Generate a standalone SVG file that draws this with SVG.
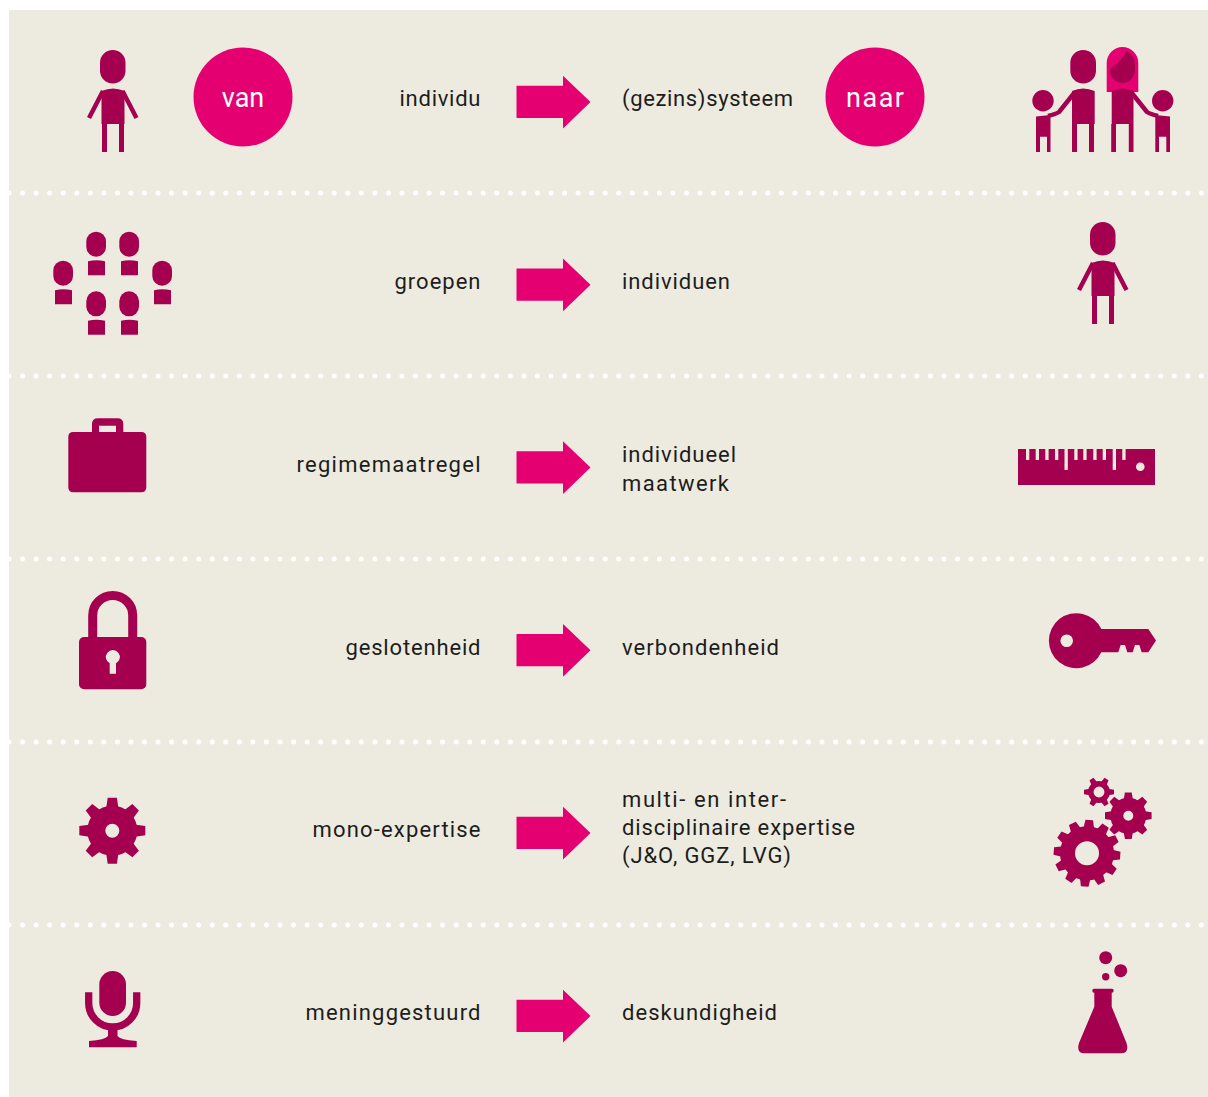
<svg xmlns="http://www.w3.org/2000/svg" xmlns:xlink="http://www.w3.org/1999/xlink" width="1208" height="1097" viewBox="0 0 1208 1097">
<style>
.i{fill:#a50050}
.p{fill:#e50071}
.h{fill:#edebe0}
.t{font-family:"Roboto","Liberation Sans",sans-serif;font-size:22px;fill:#1d1d1b}
.e{text-anchor:end}
.c{font-family:"Roboto","Liberation Sans",sans-serif;font-size:27px;fill:#fff;text-anchor:middle}
.d{stroke:#fff;stroke-width:5;stroke-linecap:round;stroke-dasharray:0 13.55;fill:none}
.l{stroke:#a50050;fill:none}
</style>
<defs>
<path id="arrow" class="p" d="M516.500 85.700H563V75.700L590.500 102L563 128.500V118H516.500Z"/>
<g id="person" class="i">
<rect x="100" y="50" width="25.500" height="33.500" rx="12.700"/>
<path d="M101.500 91Q113 86 124.500 91V124H124V152H119V124H107V152H102V124H101.500Z"/>
<path d="M103 91L89 118M122.500 91L136.500 118" class="l" stroke-width="4.500"/>
</g>
<g id="m" class="i">
<rect width="19.700" height="25" rx="9.800"/>
<path d="M1.700 29.500Q10 27.500 18.700 29.500V43.500H1.700Z"/>
</g>
<polygon id="tL" points="-6.500,-20 -4.600,-33 4.600,-33 6.500,-20"/>
<polygon id="tB" points="-5.500,-24 -3.800,-33.300 3.800,-33.300 5.500,-24"/>
<polygon id="tM" points="-4.800,-15 -3.400,-23.300 3.400,-23.300 4.800,-15"/>
<polygon id="tS" points="-3.200,-9 -2.300,-15 2.300,-15 3.200,-9"/>
</defs>
<rect id="background" x="9" y="10" width="1199" height="1087" class="h"/>
<g id="dividers">
<path class="d" d="M9 193H1208"/><path class="d" d="M9 376H1208"/><path class="d" d="M9 559H1208"/><path class="d" d="M9 742H1208"/><path class="d" d="M9 925H1208"/>
</g>
<g id="connectors">
<use href="#arrow"/>
<use href="#arrow" y="182.700"/>
<use href="#arrow" y="365.500"/>
<use href="#arrow" y="548.300"/>
<use href="#arrow" y="731"/>
<use href="#arrow" y="914"/>
</g>
<g id="badge-van"><circle class="p" cx="243" cy="97" r="49.500"/><text class="c" x="243" y="107">van</text></g>
<g id="badge-naar"><circle class="p" cx="875" cy="97" r="49.500"/><text class="c" x="875" y="107" textLength="58">naar</text></g>
<g id="row1-from"><use href="#person"/><text class="t e" x="480.500" y="106" textLength="81">individu</text></g>
<g id="row1-to"><text class="t" x="622" y="106" textLength="171">(gezins)systeem</text>
<g class="i">
<circle cx="1043" cy="100.700" r="10.700"/>
<rect x="1070.300" y="50" width="25.700" height="33.500" rx="12.800"/>
<path d="M1072 91Q1083 86 1094.700 91V124H1094V152H1089V124H1077V152H1072V124Z"/>
<path d="M1075 92L1059 112Q1056 114 1048 116" class="l" stroke-width="4.500"/>
<path d="M1036 116.500L1050.500 115V136.700H1050.500V152H1047V136.700H1040V152H1036Z"/>
<path class="p" d="M1106.700 63A15.800 16 0 0 1 1138.300 63V92H1106.700Z"/>
<path d="M1110 69C1118 64 1123 58 1126.500 51Q1135 55 1135 65V70A12.500 13 0 0 1 1110 70Z"/>
<path d="M1111.700 91Q1122.500 86 1133.500 91V124H1133.500V152H1128.800V124H1116V152H1111.200V124H1111.700Z"/>
<path d="M1131 92L1147 112Q1150 114 1158 116" class="l" stroke-width="4.500"/>
<circle cx="1162.700" cy="100.700" r="10.700"/>
<path d="M1170 116.500L1155.300 115V152H1159V136.700H1166.300V152H1170Z"/>
</g></g>
<g id="row2-from">
<use href="#m" x="86.300" y="231.700"/><use href="#m" x="119.300" y="231.700"/><use href="#m" x="53.300" y="260.700"/><use href="#m" x="152.300" y="260.700"/><use href="#m" x="86.300" y="291.300"/><use href="#m" x="119.300" y="291.300"/>
<text class="t e" x="480.500" y="289" textLength="86">groepen</text></g>
<g id="row2-to"><use href="#person" x="990" y="172"/><text class="t" x="622" y="289" textLength="108">individuen</text></g>
<g id="row3-from"><path class="i" fill-rule="evenodd" d="M92 432V424Q92 418.300 98 418.300H117.300Q123.300 418.300 123.300 424V432H141.300Q146.300 432 146.300 437V487.300Q146.300 492.300 141.300 492.300H73.300Q68.300 492.300 68.300 487.300V437Q68.300 432 73.300 432ZM99 432H116V425.700H99Z"/><text class="t e" x="480.500" y="472" textLength="184">regimemaatregel</text></g>
<g id="row3-to"><text class="t" x="622" y="462" textLength="114">individueel</text><text class="t" x="622" y="491" textLength="107">maatwerk</text>
<rect class="i" x="1018" y="449" width="137" height="36"/>
<path class="h" d="M1026 449h3.300v11h-3.300zM1035.700 449h3.300v11h-3.300zM1045.300 449h3.300v11h-3.300zM1055 449h3.300v11h-3.300zM1064.500 449h3.300v21h-3.300zM1074.300 449h3.300v11h-3.300zM1083.300 449h3.300v11h-3.300zM1093.300 449h3.300v11h-3.300zM1102.700 449h3.300v11h-3.300zM1112.700 449h3.300v21h-3.300zM1122.300 449h3.300v11h-3.300z"/>
<circle class="h" cx="1140.300" cy="466.700" r="4.300"/></g>
<g id="row4-from"><path class="l" stroke-width="9" d="M92.700 638V615.400A20 20 0 0 1 132.700 615.400V638"/>
<rect class="i" x="79" y="637" width="67.300" height="52.300" rx="5"/>
<path class="h" d="M109.700 663.300A7 7 0 1 1 116 663.300V673.700H109.700Z"/>
<text class="t e" x="480.500" y="655" textLength="135">geslotenheid</text></g>
<g id="row4-to"><text class="t" x="622" y="655" textLength="157">verbondenheid</text>
<path class="i" fill-rule="evenodd" d="M1101.300 629H1148.300L1156 640.500L1148.300 652.300H1141.700L1139.300 645H1135L1132.700 652.300H1127.300L1125 645H1120.700L1118.300 652.300H1101.300A27.500 27.500 0 1 1 1101.300 629ZM1073 640.700A6.300 6.300 0 1 0 1060.400 640.700A6.300 6.300 0 1 0 1073 640.700Z"/></g>
<g id="row5-from"><g class="i" transform="translate(112.300 830.700)">
<use href="#tL"/><use href="#tL" transform="rotate(45)"/><use href="#tL" transform="rotate(90)"/><use href="#tL" transform="rotate(135)"/><use href="#tL" transform="rotate(180)"/><use href="#tL" transform="rotate(225)"/><use href="#tL" transform="rotate(270)"/><use href="#tL" transform="rotate(315)"/>
<circle r="16" fill="none" stroke="#a50050" stroke-width="18"/></g>
<text class="t e" x="480.500" y="837" textLength="168">mono-expertise</text></g>
<g id="row5-to"><text class="t" x="622" y="807" textLength="164">multi- en inter-</text><text class="t" x="622" y="835" textLength="233">disciplinaire expertise</text><text class="t" x="622" y="863" textLength="169">(J&amp;O, GGZ, LVG)</text>
<g class="i" transform="translate(1087 853.300)">
<use href="#tB" transform="rotate(4)"/><use href="#tB" transform="rotate(34)"/><use href="#tB" transform="rotate(64)"/><use href="#tB" transform="rotate(94)"/><use href="#tB" transform="rotate(124)"/><use href="#tB" transform="rotate(154)"/><use href="#tB" transform="rotate(184)"/><use href="#tB" transform="rotate(214)"/><use href="#tB" transform="rotate(244)"/><use href="#tB" transform="rotate(274)"/><use href="#tB" transform="rotate(304)"/><use href="#tB" transform="rotate(334)"/>
<circle r="19.500" fill="none" stroke="#a50050" stroke-width="15"/></g>
<g class="i" transform="translate(1128.300 815.700)">
<use href="#tM"/><use href="#tM" transform="rotate(45)"/><use href="#tM" transform="rotate(90)"/><use href="#tM" transform="rotate(135)"/><use href="#tM" transform="rotate(180)"/><use href="#tM" transform="rotate(225)"/><use href="#tM" transform="rotate(270)"/><use href="#tM" transform="rotate(315)"/>
<circle r="11.500" fill="none" stroke="#a50050" stroke-width="13"/></g>
<g class="i" transform="translate(1099 792)">
<use href="#tS" transform="rotate(30)"/><use href="#tS" transform="rotate(90)"/><use href="#tS" transform="rotate(150)"/><use href="#tS" transform="rotate(210)"/><use href="#tS" transform="rotate(270)"/><use href="#tS" transform="rotate(330)"/>
<circle r="8.200" fill="none" stroke="#a50050" stroke-width="5.500"/></g></g>
<g id="row6-from"><g class="i"><rect x="99.300" y="971" width="26.700" height="45" rx="13.300"/>
<path class="l" stroke-width="7.300" d="M88.700 992.300V1003A24 24 0 0 0 136.700 1003V992.300"/>
<path d="M108 1028H117.500V1036Q120 1040 136.700 1041V1047.300H89V1041Q105 1040 108 1036Z"/></g>
<text class="t e" x="480.500" y="1020" textLength="175">meninggestuurd</text></g>
<g id="row6-to"><text class="t" x="622" y="1020" textLength="155">deskundigheid</text>
<g class="i"><circle cx="1105.700" cy="957.700" r="6.500"/><circle cx="1120.700" cy="970.700" r="6.500"/><circle cx="1105.700" cy="976.700" r="3.700"/>
<path d="M1094.300 992.700H1094Q1092.300 992.700 1092.300 990.700T1094 988.700H1112Q1113.700 988.700 1113.700 990.700T1112 992.700H1111.700V1006.700L1126.500 1043Q1129.500 1053.300 1121 1053.300H1084.500Q1076 1053.300 1079 1043L1094.300 1006.700Z"/></g></g>
</svg>
